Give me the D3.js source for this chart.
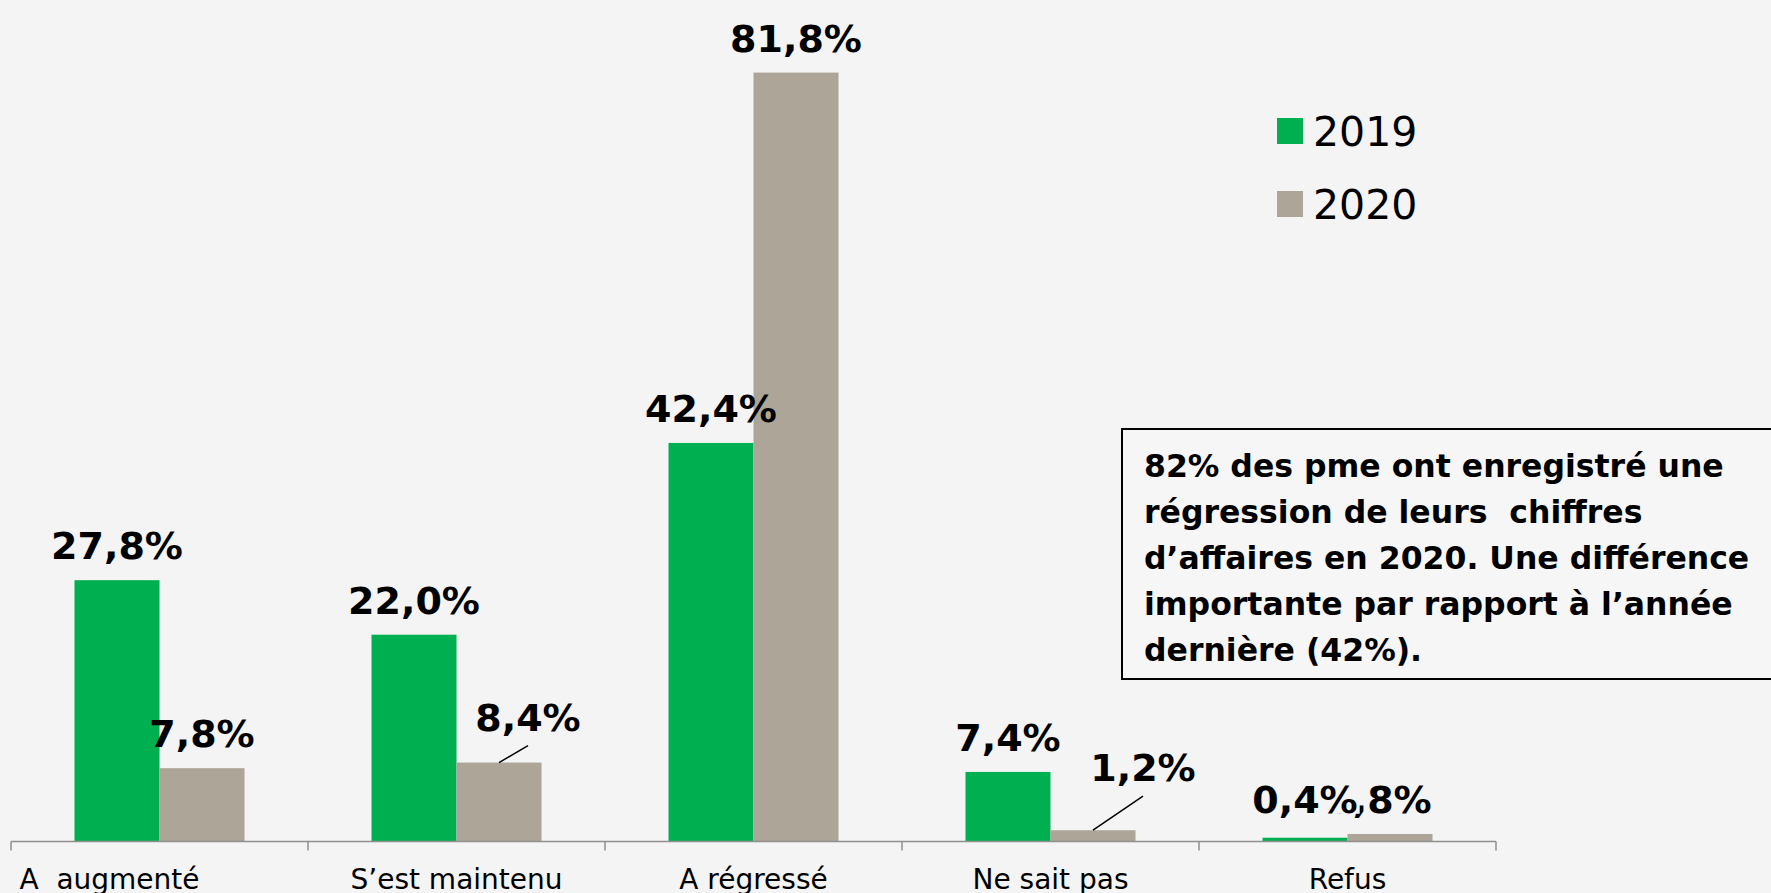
<!DOCTYPE html>
<html>
<head>
<meta charset="utf-8">
<script src="https://cdn.jsdelivr.net/npm/d3@7"></script>
<style>
  html, body { margin: 0; padding: 0; background: #f4f4f4; }
  svg { display: block; }
</style>
</head>
<body>
<div class="canvas"></div>
<script>
// data
const categories = ['A  augmenté', 'S\u2019est maintenu', 'A régressé', 'Ne sait pas', 'Refus'];
const years = ['2019', '2020'];
const values2019 = [27.8, 22.0, 42.4, 7.4, 0.4];
const values2020 = [7.8, 8.4, 81.8, 1.2, 0.8];
const noteLines = [
    '82% des pme ont enregistré une',
    'régression de leurs  chiffres',
    'd\u2019affaires en 2020. Une différence',
    'importante par rapport à l\u2019année',
    'dernière (42%).'
];

const width = 1771, height = 893;
const colors = d3.scaleOrdinal().domain(years).range(['#00b050', '#ada597']);
const fontFamily = '"DejaVu Sans", sans-serif';

// label tweaks (moved labels, leader lines, masked label)
const labelTweaks = {
    'S\u2019est maintenu|2020': {dx: 29, dy: -11, leader: true},
    'Ne sait pas|2020': {dx: 50, dy: -28, leader: true},
    'Refus|2019': {dx: 0, dy: -4, mask: true},
    'Refus|2020': {dx: -11, dy: 0}
};

const svg = d3.select('.canvas')
    .append('svg')
    .attr('width', width)
    .attr('height', height);

const baseY = 841.5;

// scales
const x0 = d3.scaleBand()
    .domain(categories)
    .range([11, 1496])
    .padding(0);

const x1 = d3.scaleBand()
    .domain(years)
    .range([0, x0.bandwidth()])
    .paddingInner(0)
    .paddingOuter(0.747);

const y = d3.scaleLinear()
    .domain([0, 90])
    .range([baseY, baseY - 90 * 9.4]);

const rows = [];
categories.forEach((c, i) => {
    rows.push({cat: c, year: '2019', value: values2019[i]});
    rows.push({cat: c, year: '2020', value: values2020[i]});
});

// bars
svg.append('g').selectAll('rect')
    .data(rows)
    .enter()
    .append('rect')
    .attr('x', d => x0(d.cat) + x1(d.year))
    .attr('y', d => y(d.value))
    .attr('width', x1.bandwidth())
    .attr('height', d => baseY - y(d.value))
    .attr('fill', d => colors(d.year));

// x axis
const xAxis = d3.axisBottom(x0).tickSize(0).tickPadding(0);
const xAxisGroup = svg.append('g')
    .attr('transform', `translate(0, ${baseY})`)
    .call(xAxis);
xAxisGroup.select('.domain').attr('stroke', '#8f8f8f').attr('stroke-width', 1.5)
    .attr('d', `M${x0.range()[0]},0H${x0.range()[1]}`);
xAxisGroup.selectAll('.tick line').remove();
xAxisGroup.selectAll('.tick text')
    .attr('y', 47)
    .attr('dy', 0)
    .attr('dx', d => d === categories[0] ? -50 : 0)
    .attr('fill', '#000')
    .style('white-space', 'pre')
    .attr('font-family', fontFamily)
    .attr('font-size', 28);
// boundary ticks
const bounds = categories.map(c => x0(c)).concat([x0.range()[1]]);
xAxisGroup.selectAll('line.bound')
    .data(bounds)
    .enter()
    .append('line')
    .attr('class', 'bound')
    .attr('x1', d => d).attr('x2', d => d)
    .attr('y1', 0).attr('y2', 9)
    .attr('stroke', '#8f8f8f')
    .attr('stroke-width', 1.5);

// data labels (2020 first so the 2019 label can sit on top)
const labelRows = rows.filter(d => d.year === '2020').concat(rows.filter(d => d.year === '2019'));
const labels = svg.append('g');
labelRows.forEach(d => {
    const tw = labelTweaks[d.cat + '|' + d.year] || {dx: 0, dy: 0};
    const cx = x0(d.cat) + x1(d.year) + x1.bandwidth() / 2;
    const lx = cx + tw.dx;
    const ly = y(d.value) - 21 + tw.dy;
    const txt = d3.format('.1f')(d.value).replace('.', ',') + '%';
    if (tw.leader) {
        labels.append('line')
            .attr('x1', cx).attr('y1', y(d.value))
            .attr('x2', lx).attr('y2', ly + 15)
            .attr('stroke', '#000')
            .attr('stroke-width', 1.5);
    }
    const g = labels.append('g');
    const t = g.append('text')
        .attr('x', lx)
        .attr('y', ly)
        .attr('text-anchor', 'middle')
        .attr('font-family', fontFamily)
        .attr('font-weight', 'bold')
        .attr('font-size', 38)
        .attr('fill', '#000')
        .text(txt);
    if (tw.mask) {
        const bb = t.node().getBBox();
        g.insert('rect', 'text')
            .attr('x', bb.x).attr('y', bb.y)
            .attr('width', bb.width + 2)
            .attr('height', ly + 1 - bb.y)
            .attr('fill', '#f4f4f4');
    }
});

// legend
const legend = svg.append('g').attr('transform', 'translate(1277, 118)');
years.forEach((yr, i) => {
    const row = legend.append('g').attr('transform', `translate(0, ${i * 73})`);
    row.append('rect')
        .attr('width', 26).attr('height', 26)
        .attr('fill', colors(yr));
    row.append('text')
        .attr('x', 36).attr('y', 28)
        .attr('font-family', fontFamily)
        .attr('font-size', 41)
        .attr('fill', '#000')
        .text(yr);
});

// note box
const note = svg.append('g');
note.append('rect')
    .attr('x', 1122).attr('y', 429)
    .attr('width', 700).attr('height', 250)
    .attr('fill', '#f6f6f6')
    .attr('stroke', '#000')
    .attr('stroke-width', 2);
note.selectAll('text')
    .data(noteLines)
    .enter()
    .append('text')
    .attr('x', 1144)
    .attr('y', (d, i) => 477 + i * 46)
    .attr('font-family', fontFamily)
    .attr('font-weight', 'bold')
    .attr('font-size', 31.5)
    .attr('fill', '#000')
    .style('white-space', 'pre')
    .text(d => d);
</script>
</body>
</html>
